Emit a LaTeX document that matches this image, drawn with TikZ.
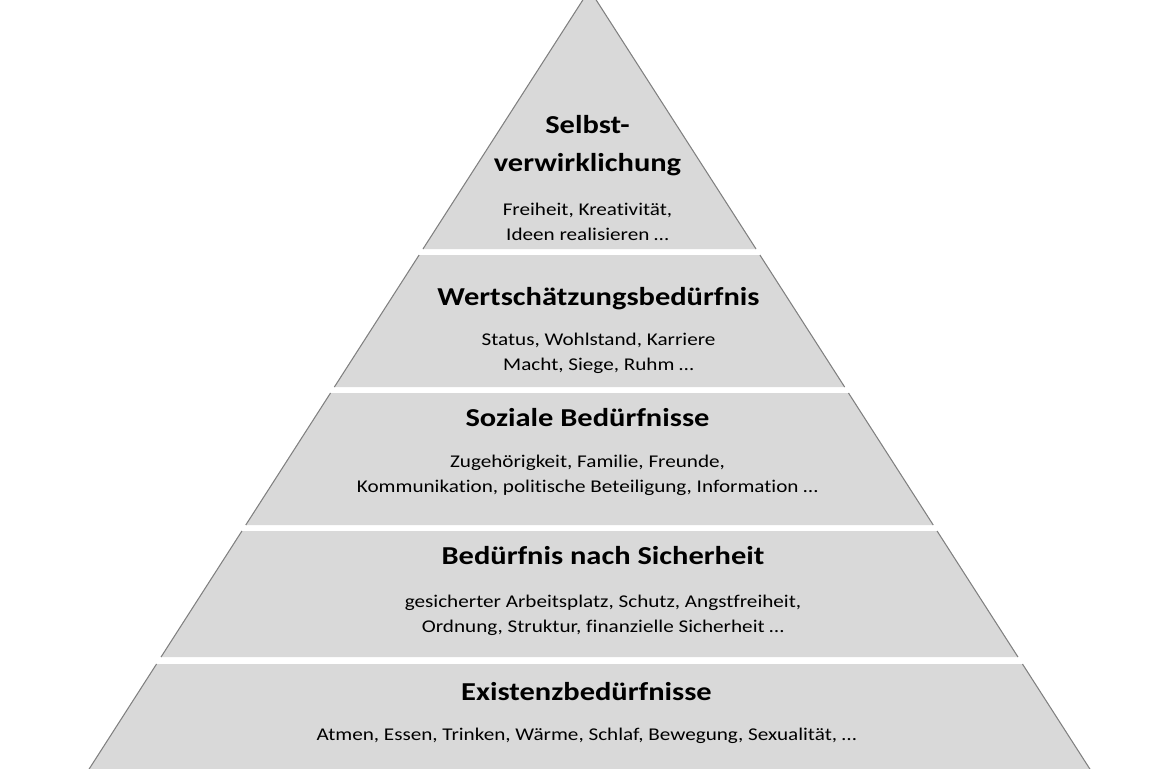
\documentclass[tikz,border=0pt]{standalone}
\usepackage{fontspec}
\setmainfont{Carlito}[FakeStretch=1.18, Ligatures=NoCommon]
\usetikzlibrary{positioning}
\definecolor{cfill}{HTML}{D9D9D9}
\definecolor{cedge}{HTML}{808080}
\tikzset{
  every picture/.style={line width=0.6pt},
  layer/.style={fill=cfill},
  side/.style={draw=cedge, line width=0.6pt},
  head/.style={font=\fontsize{14.7}{21.5}\selectfont\bfseries, align=center, inner sep=0pt, anchor=base},
  body/.style={font=\fontsize{10.2}{14.2}\selectfont, align=center, inner sep=0pt, anchor=base},
}

\begin{document}
\begin{tikzpicture}[x=0.02cm, y=-0.02cm]
  \useasboundingbox (0,0) rectangle (1158,768);
  \clip (0,0) rectangle (1158,768);
  % five layers of the pyramid, apex just above the frame
  \foreach \ya/\yb in {-10.4/249, 255/387, 393/525, 531/657, 664/775} {
    \pgfmathsetmacro\la{589.5-0.642*(\ya+10.4)}
    \pgfmathsetmacro\ra{589.5+0.642*(\ya+10.4)}
    \pgfmathsetmacro\lb{589.5-0.642*(\yb+10.4)}
    \pgfmathsetmacro\rb{589.5+0.642*(\yb+10.4)}
    \fill[layer] (\la,\ya) -- (\ra,\ya) -- (\rb,\yb) -- (\lb,\yb) -- cycle;
    \draw[side] (\la,\ya) -- (\lb,\yb) (\ra,\ya) -- (\rb,\yb);
  }
  % texts, anchored on the baseline of their last line
  \node[head] (t1) at (587.5,171) {Selbst-\\verwirklichung};
  \node[body] (b1) at (587.5,240) {Freiheit, Kreativität,\\Ideen realisieren …};
  \node[head] (t2) at (598.5,305) {Wertschätzungsbedürfnis};
  \node[body] (b2) at (598.5,370) {Status, Wohlstand, Karriere\\Macht, Siege, Ruhm …};
  \node[head] (t3) at (587.5,426) {Soziale Bedürfnisse};
  \node[body] (b3) at (587.5,492) {Zugehörigkeit, Familie, Freunde,\\Kommunikation, politische Beteiligung, Information …};
  \node[head] (t4) at (603,564) {Bedürfnis nach Sicherheit};
  \node[body] (b4) at (603,632) {gesicherter Arbeitsplatz, Schutz, Angstfreiheit,\\Ordnung, Struktur, finanzielle Sicherheit …};
  \node[head] (t5) at (586.5,700) {Existenzbedürfnisse};
  \node[body] (b5) at (586.5,740) {Atmen, Essen, Trinken, Wärme, Schlaf, Bewegung, Sexualität, …};
\end{tikzpicture}
\end{document}
